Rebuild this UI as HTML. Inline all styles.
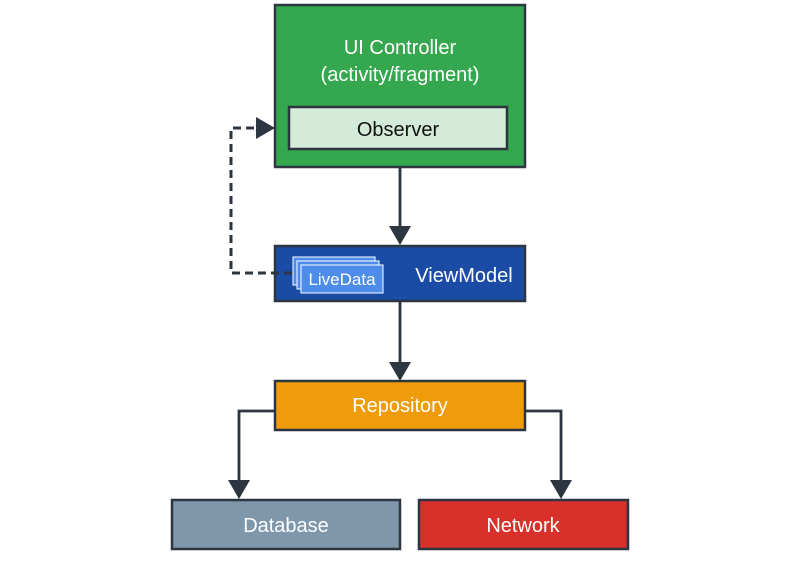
<!DOCTYPE html>
<html><head><style>
body{margin:0;background:#fff;}
svg text{font-family:"Liberation Sans",sans-serif;}
</style></head><body>
<svg width="800" height="573" xmlns="http://www.w3.org/2000/svg">
<g stroke="#2c3540" stroke-width="2.5">
<rect x="275" y="5" width="250" height="162" fill="#35a74f"/>
<rect x="289" y="107" width="218" height="42" fill="#d3ebd8"/>
<rect x="275" y="246" width="250" height="55" fill="#1b4ca5"/>
<rect x="275" y="381" width="250" height="49" fill="#f09c0a"/>
<rect x="172" y="500" width="228" height="49" fill="#7f97ab"/>
<rect x="419" y="500" width="209" height="49" fill="#d8302a"/>
</g>
<g stroke="#2c3540" stroke-width="2.8" fill="none">
<path d="M400 168 V228"/>
<path d="M400 302 V364"/>
<path d="M274 411 H239 V482"/>
<path d="M526 411 H561 V482"/>
<path d="M292 273 H231 V128 H258" stroke-dasharray="8,5" stroke-width="3"/>
</g>
<g fill="#2c3540">
<path d="M389 226 L411 226 L400 245 Z"/>
<path d="M389 362 L411 362 L400 381 Z"/>
<path d="M228 480 L250 480 L239 499 Z"/>
<path d="M550 480 L572 480 L561 499 Z"/>
<path d="M256 117 L256 139 L275 128 Z"/>
</g>
<g stroke="#fff" stroke-width="1" fill="#4d8ce8">
<rect x="293" y="257" width="82" height="28"/>
<rect x="297" y="261" width="82" height="28"/>
<rect x="301" y="265" width="82" height="28"/>
</g>
<g fill="#fff" font-size="20" text-anchor="middle">
<text x="400" y="54">UI Controller</text>
<text x="400" y="81">(activity/fragment)</text>
<text x="398" y="136" fill="#111">Observer</text>
<text x="342" y="285" font-size="17">LiveData</text>
<text x="464" y="282">ViewModel</text>
<text x="400" y="412">Repository</text>
<text x="286" y="532">Database</text>
<text x="523" y="532">Network</text>
</g>
</svg>
</body></html>
